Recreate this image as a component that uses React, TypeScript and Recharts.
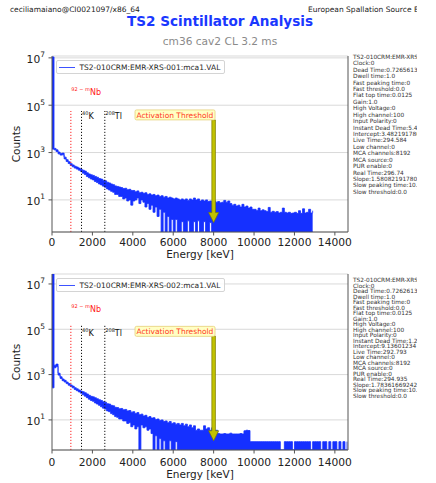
import React from 'react';
import { ComposedChart, Area, XAxis, YAxis, CartesianGrid, ReferenceLine, ReferenceDot, Legend } from 'recharts';

// MCA spectra, rebinned to 100 keV.
// hi / lo = upper and lower edge of the (very noisy) trace, counts per bin
const BIN_KEV = 100;
const energyTicks = [0, 2000, 4000, 6000, 8000, 10000, 12000, 14000];
const countTicks = [10, 1000, 100000, 10000000];

const xrs001Hi = [
  11000000, 1500, 1300, 1050, 920, 950, 640, 500, 410, 340,
  300, 265, 245, 220, 195, 180, 165, 140, 125, 115,
  108, 98, 90, 80, 76, 68, 64, 56, 52, 47,
  44, 39, 37, 35, 33, 30, 31, 27, 28, 25,
  25, 22, 24, 20, 21, 19, 20, 17, 18, 16,
  17, 15, 16, 14, 15, 13, 14, 12, 13, 12,
  11, 12, 11, 10, 11, 10, 11, 9.5, 11, 10,
  12, 10, 11, 9, 10, 9, 10, 8.5, 9, 8,
  9, 8, 8.5, 7.5, 8, 9.5, 8, 9, 7, 6,
  6.5, 5.5, 6, 5, 6.5, 5, 5.5, 4.5, 5, 4,
  4, 3.6, 4.5, 3.5, 3.8, 3.5, 3.2, 4.8, 3, 3.3,
  3, 3.2, 2.8, 3, 4.5, 3, 2.8, 3, 2.7, 2.8,
  3, 2.7, 3.5, 2.7, 4.2, 2.8, 3, 4, 2.8, 3.5,
];
const xrs001Lo = [
  1400, 1300, 1100, 880, 780, 800, 540, 420, 345, 285,
  250, 220, 200, 180, 160, 135, 118, 98, 86, 76,
  70, 60, 54, 47, 43, 38, 34, 29, 26, 23,
  21, 17, 17, 14, 14, 11, 12, 9, 10, 6,
  9, 10, 12, 7, 10, 8, 5, 7, 4, 6,
  3, 5, 2, 4, 0.44, 3, 0.44, 2, 0.44, 1.5,
  0.44, 1.5, 0.44, 0.44, 1.2, 0.44, 0.44, 1.3, 0.44, 0.44,
  1.2, 0.44, 1.3, 0.44, 0.44, 1.2, 0.44, 0.44, 1.1, 0.44,
  0.44, 0.44, 0.44, 0.44, 0.44, 0.44, 0.44, 0.44, 0.44, 0.44,
  0.44, 0.44, 0.44, 0.44, 0.44, 0.44, 0.44, 0.44, 0.44, 0.44,
  0.44, 0.44, 0.44, 0.44, 0.44, 0.44, 0.44, 0.44, 0.44, 0.44,
  0.44, 0.44, 0.44, 0.44, 0.44, 0.44, 0.44, 0.44, 0.44, 0.44,
  0.44, 0.44, 0.44, 0.44, 0.44, 0.44, 0.44, 0.44, 0.44, 0.44,
];

const xrs002Hi = [
  30000000, 2600, 2900, 1150, 800, 640, 560, 470, 400, 350,
  310, 265, 235, 210, 188, 175, 158, 140, 122, 110,
  104, 95, 86, 78, 72, 64, 60, 52, 50, 44,
  42, 36, 35, 31, 32, 28, 29, 25, 26, 22,
  23, 19, 21, 17, 18, 15, 16, 13, 14, 12,
  12.5, 10.5, 11, 9.5, 10, 8.5, 9, 7.5, 8.5, 7,
  7.5, 6.5, 7, 6, 7, 5.5, 6.5, 5, 6, 4.5,
  5.5, 3.5, 4, 3.5, 3.5, 5.5, 4, 4.5, 3.5, 4.5,
  3, 3.5, 2.5, 2.4, 2.4, 2.5, 2.4, 2.4, 2.6, 2.4,
  2.4, 2.4, 2.4, 2.5, 2.4, 3.3, 3.5, 3.4, 1.1, 1.1,
  1.1, 1.1, 1.1, 1.1, 1.1, 1.1, 1.1, 1.1, 1.1, 1.1,
  1.1, 1.1, 1.1, 0.47, 0.47, 1.1, 1.1, 1.1, 1.1, 0.47,
  1.1, 1.1, 1.1, 1.1, 1.1, 1.1, 1.1, 1.1, 0.47, 1.1,
  1.1, 1.1, 1.1, 0.47, 1.1, 1.1, 0.47, 1.1, 0.47, 1.1,
  1.1, 0.47, 1.1, 0.47, 1.1, 0.47, 1.1,
];
const xrs002Lo = [
  260, 2000, 2300, 950, 680, 540, 470, 400, 340, 295,
  260, 220, 195, 172, 152, 128, 112, 96, 82, 72,
  66, 56, 50, 44, 38, 33, 30, 25, 23, 19,
  17, 14, 13, 11, 11, 9, 9, 7, 7.5, 5,
  6, 4, 5, 0.47, 6, 4.5, 5, 3.5, 4, 2.5,
  0.47, 2, 0.47, 1.5, 0.47, 1.2, 0.47, 0.47, 1.2, 0.47,
  0.47, 1.1, 0.47, 0.47, 0.47, 0.47, 0.47, 0.47, 0.47, 0.47,
  0.47, 0.47, 0.47, 0.47, 0.47, 0.47, 0.47, 0.47, 0.47, 0.47,
  0.47, 0.47, 0.47, 0.47, 0.47, 0.47, 0.47, 0.47, 0.47, 0.47,
  0.47, 0.47, 0.47, 0.47, 0.47, 0.47, 0.47, 0.47, 0.47, 0.47,
  0.47, 0.47, 0.47, 0.47, 0.47, 0.47, 0.47, 0.47, 0.47, 0.47,
  0.47, 0.47, 0.47, 0.47, 0.47, 0.47, 0.47, 0.47, 0.47, 0.47,
  0.47, 0.47, 0.47, 0.47, 0.47, 0.47, 0.47, 0.47, 0.47, 0.47,
  0.47, 0.47, 0.47, 0.47, 0.47, 0.47, 0.47, 0.47, 0.47, 0.47,
  0.47, 0.47, 0.47, 0.47, 0.47, 0.47, 0.47,
];

// gamma lines marked on both plots (keV)
const nbLineKeV = 934;
const kLineKeV = 1461;
const tlLineKeV = 2614;
const thresholdKeV = 8000;

const xrs001Meta = [
  'TS2-010CRM:EMR-XRS-001', 'Clock:0', 'Dead Time:0.72656130', 'Dwell time:1.0', 'Fast peaking time:0',
  'Fast threshold:0.0', 'Flat top time:0.0125', 'Gain:1.0', 'High Voltage:0', 'High channel:100',
  'Input Polarity:0', 'Instant Dead Time:5.43', 'Intercept:3.4821917808', 'Live Time:294.584', 'Low channel:0',
  'MCA channels:8192', 'MCA source:0', 'PUR enable:0', 'Real Time:296.74', 'Slope:1.5808219178082',
  'Slow peaking time:10.0', 'Slow threshold:0.0',
];
const xrs002Meta = [
  'TS2-010CRM:EMR-XRS-002', 'Clock:0', 'Dead Time:0.7262613', 'Dwell time:1.0', 'Fast peaking time:0',
  'Fast threshold:0.0', 'Flat top time:0.0125', 'Gain:1.0', 'High Voltage:0', 'High channel:100',
  'Input Polarity:0', 'Instant Dead Time:1.27', 'Intercept:9.13601234', 'Live Time:292.793', 'Low channel:0',
  'MCA channels:8192', 'MCA source:0', 'PUR enable:0', 'Real Time:294.935', 'Slope:1.783616692426584',
  'Slow peaking time:10.0', 'Slow threshold:0.0',
];

const BLUE = '#1530ff';
const FONT = "'DejaVu Sans', sans-serif";

const PowTick = (props: any) => {
  const { x, y, payload } = props;
  const exp = Math.round(Math.log10(payload.value));
  return (
    <text x={x} y={y + 5.5} textAnchor="end" fontSize={10.7} fill="#222">
      <tspan>10</tspan>
      <tspan dy={-6} fontSize={7.5}>{exp}</tspan>
    </text>
  );
};

const countsLabel = (props: any) => {
  const vb = props.viewBox;
  const cx = vb.x + 8;
  const cy = vb.y + vb.height / 2;
  return (
    <text x={cx} y={cy} transform={`rotate(-90 ${cx} ${cy})`} textAnchor="middle" dominantBaseline="central" fontSize={10.5} fill="#222">
      Counts
    </text>
  );
};

const ThresholdArrow = (p: any) => {
  const x = p.x1;
  const yTop = Math.min(p.y1, p.y2);
  const yTip = Math.max(p.y1, p.y2);
  const hw = 1.8, hh = 5, hl = 10;
  const pts = [
    [x - hw, yTop], [x + hw, yTop], [x + hw, yTip - hl], [x + hh, yTip - hl],
    [x, yTip], [x - hh, yTip - hl], [x - hw, yTip - hl],
  ];
  return <polygon points={pts.map((q) => q.join(',')).join(' ')} fill="#c2c200" stroke="#7a7a00" strokeWidth={0.7} />;
};

const ThresholdBox = (p: any) => (
  <g>
    <rect x={p.cx - 78.6} y={p.cy - 5} width={80} height={10} rx={1.5} fill="#ffffc4" stroke="#e6cf7a" strokeWidth={0.8} />
    <text x={p.cx - 0.3} y={p.cy + 2.7} textAnchor="end" fontSize={7.5} fill="#ff3b1f">Activation Threshold</text>
  </g>
);

const isotopeLabel = (sup: string, name: string, color: string) => (p: any) => (
  <text x={p.cx + 0.5} y={p.cy} fontSize={8} fill={color}>
    <tspan fontSize={5} dy={-4}>{sup}</tspan>
    <tspan dy={4}>{name}</tspan>
  </text>
);

const legendBox = (name: string) => () => (
  <div style={{ width: 169, height: 14, boxSizing: 'border-box', border: '1px solid #d4d4d4', borderRadius: 2, background: 'rgba(255,255,255,0.85)', position: 'relative', fontSize: 7.5, color: '#262626', whiteSpace: 'nowrap', fontFamily: FONT }}>
    <div style={{ position: 'absolute', left: 2, top: 5.5, width: 16, height: 1.5, background: '#3d52ff' }} />
    <span style={{ position: 'absolute', left: 22.5, top: 1, lineHeight: '11px' }}>{name}</span>
  </div>
);

interface PanelCfg {
  top: number;
  hi: number[];
  lo: number[];
  yMin: number;
  yMax: number;
  legendName: string;
  lineTop: number;
  nbLabelY: number;
  lineLabelY: number;
  boxY: number;
  boxBottomY: number;
  arrowTipY: number;
  xTickMargin: number;
  xLabelOffset: number;
}

const SpectrumPanel = ({ cfg }: { cfg: PanelCfg }) => {
  const data = cfg.hi.map((h, i) => ({ e: i * BIN_KEV, band: [cfg.lo[i], h] }));
  const dotted = (keV: number, color: string) => (
    <ReferenceLine
      xAxisId="b" yAxisId="l" ifOverflow="visible"
      segment={[{ x: keV, y: cfg.yMin }, { x: keV, y: cfg.lineTop }]}
      stroke={color} strokeWidth={1} strokeDasharray="1.2 1.8"
    />
  );
  return (
    <div style={{ position: 'absolute', left: 0, top: cfg.top }}>
      <ComposedChart width={372} height={262} data={data} margin={{ top: 56, right: 23, bottom: 0, left: 8 }}>
        <CartesianGrid xAxisId="b" yAxisId="l" vertical={false} stroke="#d9d9d9" />
        <XAxis
          xAxisId="b" dataKey="e" type="number" domain={[0, 14650]} allowDataOverflow
          ticks={energyTicks} interval={0} height={30} tickSize={3.5} tickMargin={cfg.xTickMargin}
          stroke="#555" tick={{ fontSize: 10.7, fill: '#222' }}
          label={{ value: 'Energy [keV]', position: 'insideBottom', offset: cfg.xLabelOffset, fontSize: 10.5, fill: '#222' }}
        />
        <XAxis xAxisId="t" orientation="top" type="number" domain={[0, 14650]} height={0} tick={false} tickLine={false} stroke="#555" />
        <YAxis
          yAxisId="l" type="number" scale="log" domain={[cfg.yMin, cfg.yMax]} allowDataOverflow
          ticks={countTicks} interval={0} width={44} tickSize={3.5} tickMargin={3.5}
          stroke="#555" tick={<PowTick />} label={{ content: countsLabel }}
        />
        <YAxis yAxisId="r" orientation="right" type="number" domain={[0, 1]} width={1} tick={false} tickLine={false} stroke="#555" />
        <Area
          xAxisId="b" yAxisId="l" dataKey="band" type="stepAfter"
          stroke={BLUE} strokeWidth={0.8} fill={BLUE} fillOpacity={1}
          dot={false} activeDot={false} isAnimationActive={false}
        />
        {dotted(nbLineKeV, '#ff2020')}
        {dotted(kLineKeV, '#111')}
        {dotted(tlLineKeV, '#111')}
        <ReferenceDot xAxisId="b" yAxisId="l" ifOverflow="visible" x={nbLineKeV} y={cfg.nbLabelY} shape={isotopeLabel('92 − m', 'Nb', '#ff2020')} />
        <ReferenceDot xAxisId="b" yAxisId="l" ifOverflow="visible" x={kLineKeV} y={cfg.lineLabelY} shape={isotopeLabel('40', 'K', '#111')} />
        <ReferenceDot xAxisId="b" yAxisId="l" ifOverflow="visible" x={tlLineKeV} y={cfg.lineLabelY} shape={isotopeLabel('208', 'Tl', '#111')} />
        <ReferenceLine
          xAxisId="b" yAxisId="l" ifOverflow="visible"
          segment={[{ x: thresholdKeV, y: cfg.boxBottomY }, { x: thresholdKeV, y: cfg.arrowTipY }]}
          shape={ThresholdArrow}
        />
        <ReferenceDot xAxisId="b" yAxisId="l" ifOverflow="visible" x={thresholdKeV} y={cfg.boxY} shape={ThresholdBox} />
        <Legend
          layout="horizontal" verticalAlign="middle" align="center"
          wrapperStyle={{ top: 60, left: 56, width: 169, height: 14 }}
          content={legendBox(cfg.legendName)}
        />
      </ComposedChart>
    </div>
  );
};

const topPanel: PanelCfg = {
  top: 0, hi: xrs001Hi, lo: xrs001Lo, yMin: 0.44, yMax: 1.2e7,
  legendName: 'TS2-010CRM:EMR-XRS-001:mca1.VAL',
  lineTop: 5.7e4, nbLabelY: 2.7e5, lineLabelY: 2.6e4, boxY: 3.9e4, boxBottomY: 2.4e4, arrowTipY: 1.1,
  xTickMargin: 3, xLabelOffset: 4,
};
const bottomPanel: PanelCfg = {
  top: 218, hi: xrs002Hi, lo: xrs002Lo, yMin: 0.47, yMax: 2.75e7,
  legendName: 'TS2-010CRM:EMR-XRS-002:mca1.VAL',
  lineTop: 1.44e5, nbLabelY: 5.5e5, lineLabelY: 5e4, boxY: 8.1e4, boxBottomY: 5e4, arrowTipY: 1.2,
  xTickMargin: 4.9, xLabelOffset: 2,
};

const MetaBlock = ({ lines, y0, step }: { lines: string[]; y0: number; step: number }) => (
  <g>
    {lines.map((t, i) => (
      <text key={i} x={353} y={y0 + i * step} fontSize={5.8} fill="#333">{t}</text>
    ))}
  </g>
);

export default function App() {
  return (
    <div style={{ position: 'absolute', left: 0, top: 0, width: 436, height: 483, overflow: 'hidden', background: '#fff', fontFamily: FONT }}>
      <svg width={436} height={483} style={{ position: 'absolute', left: 0, top: 0 }}>
        <defs>
          <clipPath id="figclip"><rect x={0} y={0} width={417} height={483} /></clipPath>
        </defs>
        <g clipPath="url(#figclip)">
          <text x={10} y={12} fontSize={7.5} fill="#222">ceciliamaiano@CI0021097/x86_64</text>
          <text x={308} y={12} fontSize={7.5} fill="#222">European Spallation Source ERIC</text>
          <MetaBlock lines={xrs001Meta} y0={58.8} step={6.43} />
          <MetaBlock lines={xrs002Meta} y0={282} step={5.52} />
        </g>
        <text x={220} y={26} textAnchor="middle" fontSize={13.6} fontWeight="bold" fill="#1a38ff">TS2 Scintillator Analysis</text>
        <text x={220} y={44.8} textAnchor="middle" fontSize={10.6} fill="#8a8a8a">cm36 cav2 CL 3.2 ms</text>
      </svg>
      <SpectrumPanel cfg={topPanel} />
      <SpectrumPanel cfg={bottomPanel} />
    </div>
  );
}
